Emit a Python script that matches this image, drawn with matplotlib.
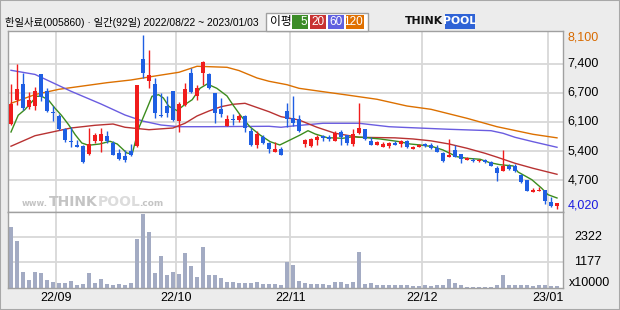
import matplotlib
matplotlib.use("Agg")
import matplotlib.pyplot as plt
import matplotlib.transforms as mtrans
from matplotlib.patches import Rectangle

# daily candles, 2022/08/22 ~ 2023/01/03 (92 trading days)
opens = [6020, 6573, 6946, 6409, 6440, 7187, 6783, 6300, 6207, 5903,
         5623, 5514, 5499, 5304, 5616, 5608, 5732, 5569, 5328, 5266,
         5382, 5491, 7530, 7024, 6946, 6222, 6432, 6783, 6090, 6456,
         7203, 6674, 7210, 7187, 6736, 6362, 5966, 6137, 6106, 6199,
         5849, 5522, 5717, 5577, 5367, 5429, 6316, 6160, 6121, 5553,
         5491, 5647, 5732, 5717, 5623, 5826, 5756, 5553, 5802, 5888,
         5616, 5530, 5468, 5507, 5569, 5553, 5616, 5421, 5468, 5546,
         5530, 5460, 5343, 5250, 5406, 5304, 5172, 5180, 5157, 5164,
         5118, 4985, 4908, 5040, 5040, 4830, 4705, 4417, 4441, 4472,
         4192, 4091]
highs = [6946, 7413, 7195, 6759, 6868, 7190, 6845, 6440, 6246, 5919,
         5935, 5631, 5530, 5927, 5810, 5919, 5857, 5608, 5437, 5406,
         5546, 6915, 8100, 7747, 7086, 6728, 6674, 6790, 6526, 6969,
         7319, 6930, 7475, 7203, 6736, 6612, 6222, 6246, 6246, 6215,
         5919, 5857, 5748, 5600, 5584, 5468, 6510, 6666, 6222, 5654,
         5686, 5763, 5763, 5748, 5841, 5872, 5763, 5888, 6503, 5896,
         5717, 5608, 5600, 5600, 5623, 5639, 5639, 5499, 5538, 5569,
         5561, 5515, 5351, 5654, 5530, 5312, 5242, 5219, 5203, 5196,
         5141, 5024, 5398, 5071, 5079, 4846, 4713, 4518, 4534, 4480,
         4301, 4169]
lows = [6000, 6456, 6339, 6362, 6339, 6557, 6300, 6082, 5872, 5592,
        5483, 5468, 5102, 5297, 5577, 5359, 5569, 5281, 5164, 5133,
        5258, 5476, 7086, 6853, 6153, 6168, 6168, 6090, 5818, 6425,
        6728, 6580, 6930, 6829, 6036, 6168, 5966, 5997, 6067, 5833,
        5491, 5460, 5546, 5343, 5367, 5297, 5950, 5966, 5833, 5468,
        5483, 5530, 5623, 5623, 5608, 5530, 5530, 5491, 5779, 5647,
        5530, 5530, 5468, 5460, 5515, 5468, 5452, 5421, 5468, 5476,
        5437, 5351, 5118, 5234, 5242, 5110, 5164, 5125, 5125, 5102,
        5024, 4690, 4908, 4946, 4900, 4635, 4441, 4417, 4441, 4153,
        4083, 4020]
closes = [6487, 6821, 6386, 6572, 6783, 6635, 6316, 6261, 5896, 5647,
          5600, 5483, 5125, 5546, 5756, 5779, 5623, 5289, 5188, 5164,
          5289, 6915, 7203, 7156, 6277, 6199, 6277, 6106, 6471, 6829,
          6751, 6845, 7460, 6853, 6269, 6246, 6129, 6113, 6199, 5911,
          5522, 5771, 5577, 5429, 5429, 5297, 6129, 6043, 5857, 5631,
          5662, 5717, 5686, 5670, 5795, 5709, 5569, 5779, 5927, 5662,
          5530, 5592, 5538, 5569, 5530, 5623, 5468, 5483, 5522, 5499,
          5452, 5367, 5157, 5297, 5250, 5188, 5227, 5157, 5180, 5125,
          5040, 4869, 5040, 4962, 4908, 4651, 4456, 4472, 4480, 4207,
          4106, 4169]
volumes = [2794, 2138, 733, 351, 733, 687, 351, 275, 229, 229,
           321, 137, 168, 687, 229, 397, 168, 137, 168, 137,
           229, 2229, 3375, 2565, 687, 1451, 580, 733, 641, 1603,
           1008, 489, 1863, 580, 580, 443, 275, 275, 229, 229,
           229, 275, 183, 183, 183, 137, 1176, 1038, 321, 229,
           168, 168, 168, 122, 275, 275, 183, 275, 1634, 183,
           229, 122, 122, 122, 122, 122, 122, 92, 92, 122,
           92, 122, 122, 397, 229, 122, 61, 61, 61, 61,
           61, 122, 580, 122, 122, 122, 122, 92, 122, 122,
           92, 92]

# moving averages (day index, price)
ma5_x = [0, 1.2, 2.3, 4.3, 5.1, 6.2, 7.3, 8.4, 9.6, 10.7, 11.8, 12.9, 14.8, 16.5,
         17.7, 19.3, 20.2, 21.3, 22.7, 23.5, 24.6, 25.4, 26.3, 27.7, 28.8, 30.2,
         31.5, 32.7, 34.3, 36, 37, 38.2, 39.8, 41.5, 43.2, 44.8, 46.5, 48.2, 49.5,
         50.7, 52.7, 55.3, 57, 59.3, 61.5, 64.8, 66.5, 68.2, 70.3, 72, 74.3, 76,
         78.2, 79.8, 81.5, 83.7, 84.5, 86.8, 88.4, 89.5, 91]
ma5_y = [5827, 6217, 6347, 6660, 6660, 6580, 6387, 6217, 5997, 5764, 5570, 5517,
         5547, 5610, 5547, 5337, 5314, 5920, 6387, 6660, 6697, 6620, 6426, 6324,
         6450, 6580, 6846, 6947, 6846, 6667, 6457, 6223, 5950, 5757, 5600, 5524,
         5640, 5757, 5857, 5780, 5694, 5680, 5717, 5694, 5664, 5600, 5547, 5524,
         5484, 5407, 5251, 5213, 5190, 5111, 5064, 5034, 4894, 4714, 4520, 4364,
         4287]
ma20_x = [0, 4, 10, 14, 17, 19, 23, 27, 29, 31, 33, 35, 37, 39, 43, 45, 48, 51,
          54, 58, 64, 67, 70, 73, 76, 79, 81, 84, 87, 91]
ma20_y = [5495, 5740, 5920, 5983, 6013, 5937, 5880, 5920, 6030, 6200, 6317, 6417,
          6473, 6496, 6300, 6184, 6107, 5937, 5797, 5703, 5690, 5664, 5620, 5547,
          5447, 5330, 5240, 5097, 4980, 4840]
ma60_x = [0, 4, 10, 15, 19, 22, 25, 28, 33, 43, 45, 47, 52, 58, 63, 65, 73, 80,
          82, 84, 87, 91]
ma60_y = [7266, 7170, 6777, 6480, 6223, 6080, 5990, 5950, 5950, 5960, 5937, 5967,
          6030, 6030, 5950, 5937, 5890, 5857, 5797, 5703, 5600, 5470]
ma120_x = [0, 4, 8, 12, 16, 20, 24, 28, 31, 36, 38, 41, 43, 46, 48, 52, 56, 61,
           66, 70, 76, 81, 87, 91]
ma120_y = [6496, 6700, 6823, 6900, 6977, 7040, 7133, 7220, 7360, 7336, 7260, 7087,
           7010, 6930, 6846, 6767, 6690, 6590, 6433, 6356, 6146, 5950, 5773, 5690]

month_idx = [8, 28, 47, 69, 90]
month_labels = ["22/09", "22/10", "22/11", "22/12", "23/01"]
price_grid = [7420, 6740, 6060, 5380, 4700]
price_labels = ["7,400", "6,700", "6,100", "5,400", "4,700"]
vol_grid = [1177, 2322]

title = "한일사료(005860) · 일간(92일) 2022/08/22 ~ 2023/01/03"

RED = "#f01c1c"
BLUE = "#1f5fe3"
W, H = 620, 310


def fx(x):
    return x / W


def fy(y):
    return 1 - y / H


fig = plt.figure(figsize=(6.2, 3.1), dpi=100)
fig.patch.set_facecolor("#ececec")
fig.add_artist(Rectangle((0, 0), 1, 1, transform=fig.transFigure, fill=False,
                         edgecolor="#a8a8a8", lw=1.5))

left, right = fx(7.7), fx(563)
ax = fig.add_axes([left, fy(212.3), right - left, fy(31) - fy(212.3)])
axv = fig.add_axes([left, fy(288), right - left, fy(212.3) - fy(288)])

n = len(closes)
for a in (ax, axv):
    a.set_facecolor("white")
    a.set_xlim(-0.55, 92.0)
    a.set_xticks([])
    a.set_yticks([])
    for s in a.spines.values():
        s.set_color("#a0a0a0")
        s.set_linewidth(1.0)
    for m in month_idx:
        a.axvline(m - 0.42, color="#d8d8d8", lw=1.3, zorder=0)

ax.set_ylim(3953, 8183)
axv.set_ylim(0, 3467)

for g in price_grid:
    ax.axhline(g, color="#d8d8d8", lw=1.3, zorder=0)
for g in vol_grid:
    axv.axhline(g, color="#d8d8d8", lw=1.3, zorder=0)

# watermark
wm = dict(fontweight="bold", family="DejaVu Sans", va="center", ha="left")
fig.text(fx(22), fy(204), "www.", color="#c4c4c4", fontsize=6, **wm)
fig.text(fx(49), fy(202.5), "THINK", color="#c4c4c4", fontsize=10, **wm)
fig.text(fx(98), fy(202.5), "POOL", color="#dcdcdc", fontsize=10, **wm)
fig.text(fx(139), fy(204), ".com", color="#c4c4c4", fontsize=6.5, **wm)

# moving averages
ax.plot(ma120_x, ma120_y, color="#dc7000", lw=1.0, zorder=2)
ax.plot(ma60_x, ma60_y, color="#6a5ce0", lw=1.0, zorder=2)
ax.plot(ma20_x, ma20_y, color="#b83232", lw=1.0, zorder=2)
ax.plot(ma5_x, ma5_y, color="#3c8c1e", lw=1.0, zorder=2)

# candles
xs = list(range(n))
cols = [RED if c >= o else BLUE for o, c in zip(opens, closes)]
ax.vlines(xs, lows, highs, colors=cols, lw=1.0, zorder=3)
bottoms = [min(o, c) for o, c in zip(opens, closes)]
heights = [max(abs(c - o), 22) for o, c in zip(opens, closes)]
ax.bar(xs, heights, bottom=bottoms, width=0.75, color=cols, lw=0, zorder=4)

# volume
axv.bar(xs, volumes, width=0.7, color="#a3abc3", lw=0, zorder=2)

# right side labels
tp = mtrans.blended_transform_factory(ax.transAxes, ax.transData)
lab_kw = dict(fontsize=9, family="Liberation Sans", va="center", ha="left")
for g, s in zip(price_grid, price_labels):
    ax.text(1.008, g, s, transform=tp, color="black", **lab_kw)
ax.text(1.008, 8020, "8,100", transform=tp, color="#d86a00", **lab_kw)
ax.text(1.008, 4107, "4,020", transform=tp, color="#1a1ae0", **lab_kw)

tv = mtrans.blended_transform_factory(axv.transAxes, axv.transData)
for g in vol_grid:
    axv.text(1.02, g, str(g), transform=tv, color="black", **lab_kw)
axv.text(1.01, 0.07, "x10000", transform=axv.transAxes, color="black", **lab_kw)

# month labels
for m, s in zip(month_idx, month_labels):
    xf = left + (m - 0.42 + 0.55) / 92.55 * (right - left)
    fig.text(xf, fy(298), s, fontsize=9, family="Liberation Sans",
             ha="center", va="center")

# title
fig.text(fx(5), fy(22), title, fontsize=7.4,
         family=["Liberation Sans", "Noto Sans CJK KR"], va="center", ha="left")

# MA legend box
fig.add_artist(Rectangle((fx(266), fy(31)), fx(102), fy(12.7) - fy(31),
                         transform=fig.transFigure, facecolor="white",
                         edgecolor="#a0a0a0", lw=1))
fig.text(fx(270), fy(22), "이평", fontsize=8.5, family="Noto Sans CJK KR",
         va="center", ha="left")
legend_items = [("5", "#3c8c28", 292, 308), ("20", "#c83232", 310, 326),
                ("60", "#6060e0", 328, 344), ("120", "#e07000", 346, 364)]
for txt, c, x0, x1 in legend_items:
    fig.add_artist(Rectangle((fx(x0), fy(28.5)), fx(x1 - x0), fy(15.3) - fy(28.5),
                             transform=fig.transFigure, facecolor=c, lw=0))
    fig.text(fx(x1 - 1), fy(22), txt, fontsize=8.5, family="Liberation Sans",
             color="white", va="center", ha="right")

# logo
fig.text(fx(405), fy(21.5), "THINK", fontsize=7.8, fontweight="bold",
         family="DejaVu Sans", color="#111111", va="center", ha="left")
fig.add_artist(Rectangle((fx(445), fy(28.5)), fx(30), fy(14) - fy(28.5),
                         transform=fig.transFigure, facecolor="#2f63d6", lw=0))
fig.text(fx(460), fy(21.5), "POOL", fontsize=7.8, fontweight="bold",
         family="DejaVu Sans", color="white", va="center", ha="center")

fig.savefig("out.png", dpi=100, facecolor=fig.get_facecolor())
